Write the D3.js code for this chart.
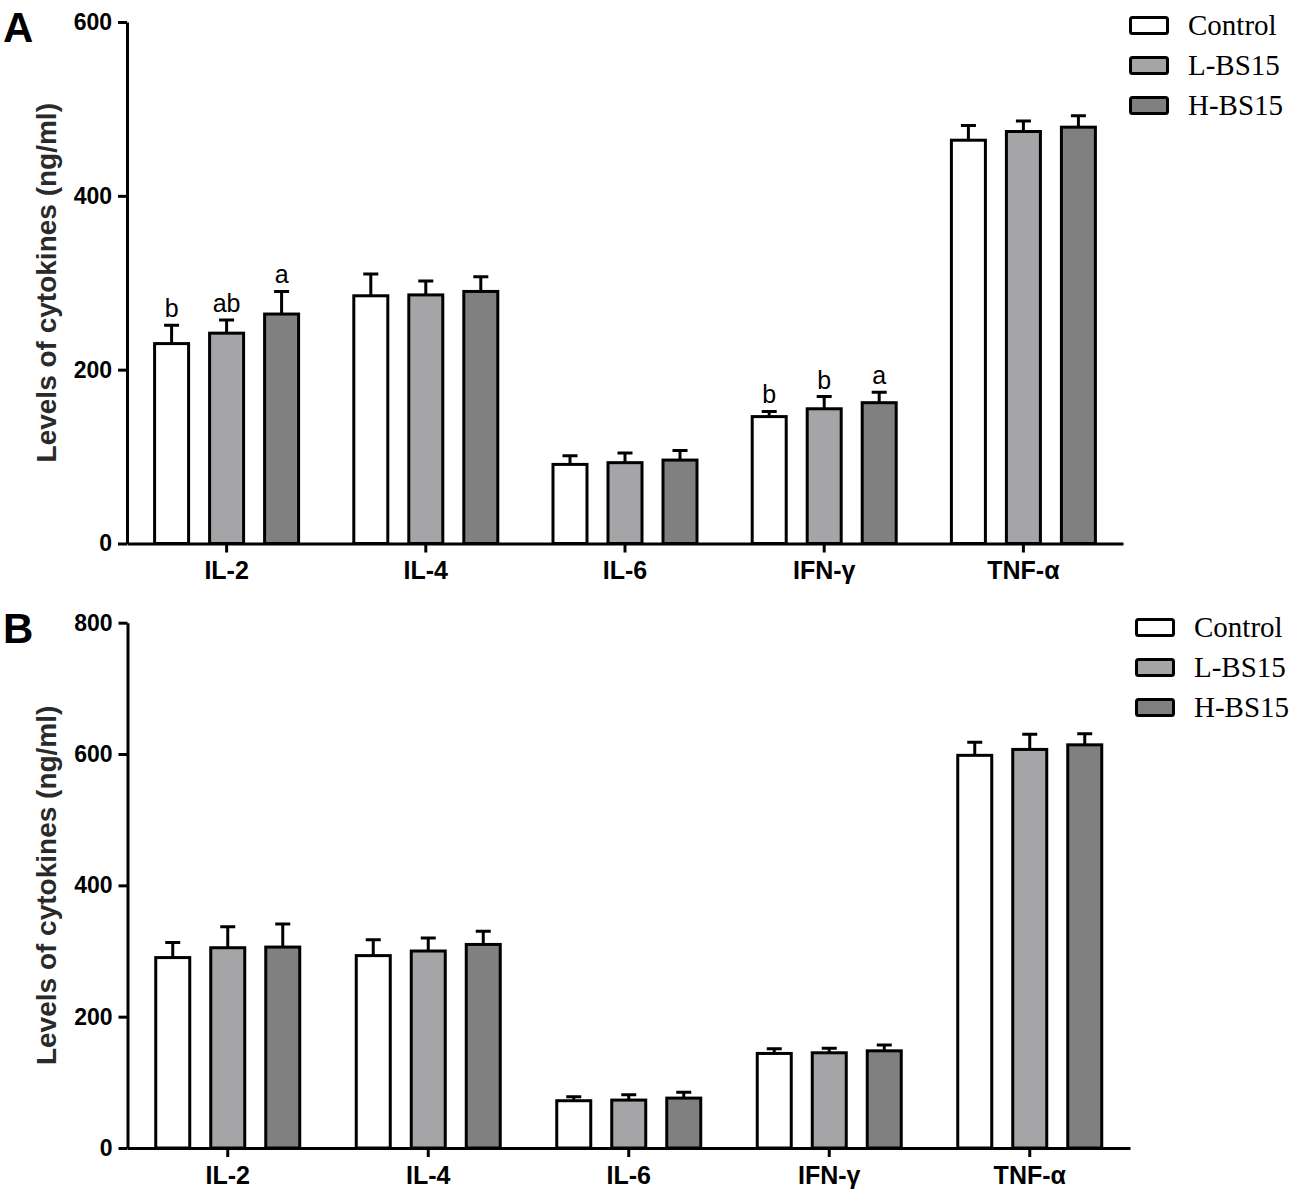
<!DOCTYPE html>
<html>
<head>
<meta charset="utf-8">
<script src="https://cdn.jsdelivr.net/npm/d3@7"></script>
<style>
  body { margin: 0; background: #fff; }
  .tick text { font-family: "Liberation Sans", Arial, sans-serif; font-weight: bold; fill: #000; }
</style>
</head>
<body>
<div id="viz"></div>
<script>
// categories and groups
let categories = ['IL-2', 'IL-4', 'IL-6', 'IFN-γ', 'TNF-α'];
let groups = ['Control', 'L-BS15', 'H-BS15'];
let fills = ['#ffffff', '#a5a5a8', '#808080'];

// panel A (means and error)
let meanA_control = [230, 285, 91, 146, 464];
let meanA_low     = [242, 286, 93, 155, 474];
let meanA_high    = [264, 290, 96, 162, 479];
let errA_control  = [21, 25, 10, 6, 17];
let errA_low      = [15, 16, 11, 14, 12];
let errA_high     = [26, 17, 11, 12, 13];
let lettersA = {'IL-2': ['b', 'ab', 'a'], 'IFN-γ': ['b', 'b', 'a']};
let ticksA = [0, 200, 400, 600];

// panel B
let meanB_control = [290, 293, 72, 144, 598];
let meanB_low     = [305, 300, 73, 145, 607];
let meanB_high    = [306, 310, 76, 148, 614];
let errB_control  = [23, 24, 6, 7, 20];
let errB_low      = [32, 20, 8, 7, 23];
let errB_high     = [35, 20, 9, 9, 17];
let lettersB = {};
let ticksB = [0, 200, 400, 600, 800];

let svg = d3.select('#viz')
  .append('svg')
  .attr('width', 1293)
  .attr('height', 1193);

// builds rows: one per bar
function rows(means, errs) {
  let out = [];
  categories.forEach((c, i) => {
    groups.forEach((g, j) => {
      out.push({cat: c, group: g, gi: j, value: means[j][i], err: errs[j][i]});
    });
  });
  return out;
}

function drawPanel(opt) {
  let g = svg.append('g');

  let x = d3.scaleBand()
    .domain(categories)
    .range(opt.xRange)
    .padding(0);

  let xg = d3.scalePoint()
    .domain(groups)
    .range([-55, 55]); // offset of each bar from the category centre

  let y = d3.scaleLinear()
    .domain([0, opt.yMax])
    .range(opt.yRange);

  let data = rows(opt.means, opt.errs);
  let cx = d => x(d.cat) + x.bandwidth() / 2 + xg(d.group);
  let barW = 34;

  // bars
  g.selectAll('.bar')
    .data(data)
    .join('rect')
    .attr('class', 'bar')
    .attr('x', d => cx(d) - barW / 2)
    .attr('y', d => y(d.value))
    .attr('width', barW)
    .attr('height', d => y(0) - y(d.value))
    .style('fill', d => fills[d.gi])
    .style('stroke', '#000')
    .style('stroke-width', 3);

  // error bars (upper only)
  g.selectAll('.err')
    .data(data)
    .join('path')
    .attr('class', 'err')
    .attr('d', d => `M${cx(d)},${y(d.value)}V${y(d.value + d.err)}M${cx(d) - 7.5},${y(d.value + d.err)}H${cx(d) + 7.5}`)
    .style('fill', 'none')
    .style('stroke', '#000')
    .style('stroke-width', 3);

  // significance letters
  let letterRows = data.filter(d => opt.letters[d.cat]);
  g.selectAll('.letter')
    .data(letterRows)
    .join('text')
    .attr('class', 'letter')
    .attr('x', d => cx(d))
    .attr('y', d => y(d.value + d.err) - 8)
    .attr('text-anchor', 'middle')
    .style('font-family', '"Liberation Sans", Arial, sans-serif')
    .style('font-size', '25px')
    .text(d => opt.letters[d.cat][d.gi]);

  // y axis
  let yAxis = g.append('g')
    .attr('transform', `translate(${opt.xRange[0]},0)`)
    .call(d3.axisLeft(y).tickValues(opt.ticks).tickSize(9).tickSizeOuter(0).tickPadding(6));
  yAxis.selectAll('text').style('font-size', '23px');

  // x axis
  let xAxis = g.append('g')
    .attr('transform', `translate(0,${opt.yRange[0]})`)
    .call(d3.axisBottom(x).tickSize(9).tickSizeOuter(0).tickPadding(6));
  xAxis.selectAll('text').style('font-size', '25px').attr('dy', '0.82em');

  [yAxis, xAxis].forEach(a => {
    a.selectAll('path, line').style('stroke', '#000').style('stroke-width', 3);
  });

  // y axis title
  g.append('text')
    .attr('transform', `translate(56,${(opt.yRange[0] + opt.yRange[1]) / 2}) rotate(-90)`)
    .attr('text-anchor', 'middle')
    .style('font-family', '"Liberation Sans", Arial, sans-serif')
    .style('font-weight', 'bold')
    .style('font-size', '28px')
    .style('fill', '#2a2a2a')
    .text('Levels of cytokines (ng/ml)');

  // panel letter
  g.append('text')
    .attr('x', 3)
    .attr('y', opt.yRange[1] + 20)
    .style('font-family', '"Liberation Sans", Arial, sans-serif')
    .style('font-weight', 'bold')
    .style('font-size', '42px')
    .text(opt.label);

  // legend
  let leg = g.selectAll('.legend')
    .data(groups)
    .join('g')
    .attr('class', 'legend')
    .attr('transform', (d, i) => `translate(${opt.legendX},${opt.legendY + i * 40})`);

  leg.append('rect')
    .attr('x', 1.5)
    .attr('y', -17.5)
    .attr('width', 37)
    .attr('height', 16)
    .attr('rx', 2)
    .style('fill', (d, i) => fills[i])
    .style('stroke', '#000')
    .style('stroke-width', 3);

  leg.append('text')
    .attr('x', 59)
    .attr('y', 0)
    .style('font-family', '"Liberation Serif", "Times New Roman", serif')
    .style('font-size', '29px')
    .text(d => d);
}

drawPanel({
  label: 'A',
  xRange: [127, 1123],
  yRange: [543.5, 22],
  yMax: 600,
  ticks: ticksA,
  means: [meanA_control, meanA_low, meanA_high],
  errs: [errA_control, errA_low, errA_high],
  letters: lettersA,
  legendX: 1129,
  legendY: 35
});

drawPanel({
  label: 'B',
  xRange: [127.5, 1130],
  yRange: [1148, 622.7],
  yMax: 800,
  ticks: ticksB,
  means: [meanB_control, meanB_low, meanB_high],
  errs: [errB_control, errB_low, errB_high],
  letters: lettersB,
  legendX: 1135,
  legendY: 637
});
</script>
</body>
</html>
